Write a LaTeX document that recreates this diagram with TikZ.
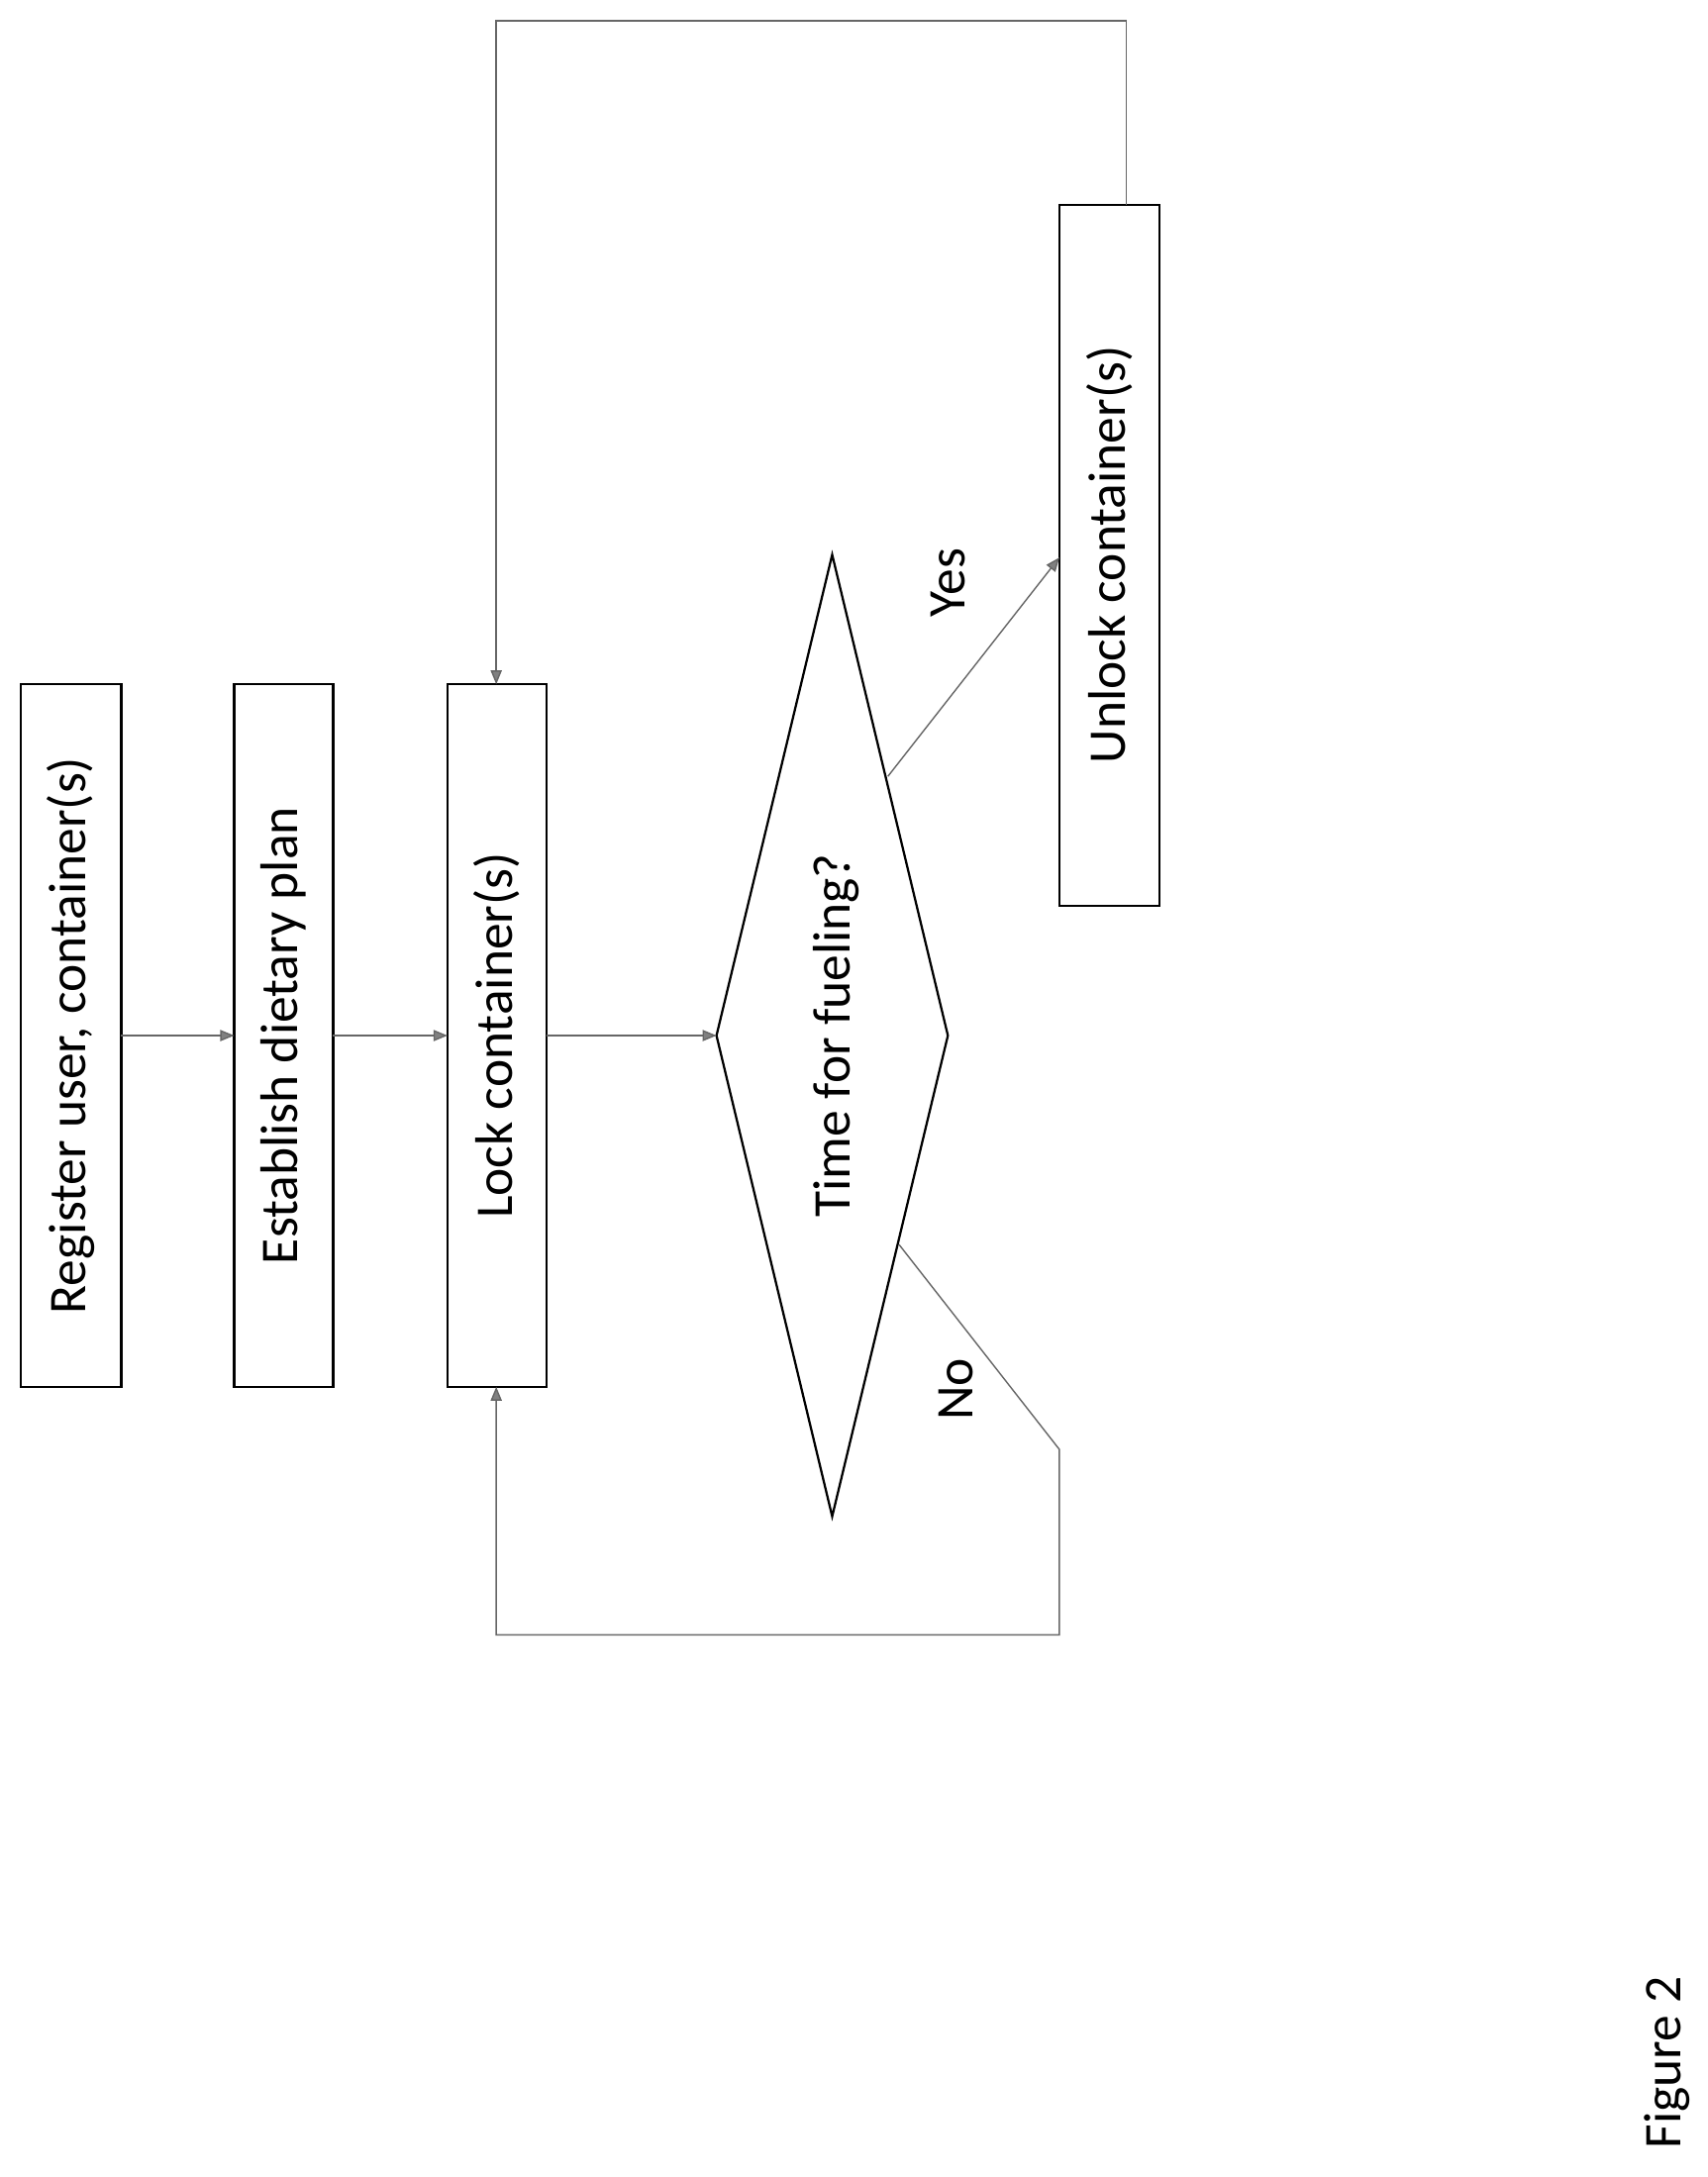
\documentclass[tikz,border=0pt]{standalone}
\usepackage{fontspec}
\setmainfont{Carlito}
\usetikzlibrary{arrows.meta}
\begin{document}
\begin{tikzpicture}[x=0.5pt,y=-0.5pt,
  box/.style={draw=black,line width=0.8pt},
  txt/.style={rotate=90,font=\fontsize{19}{23}\selectfont},
  con/.style={draw=gray!80!black,line width=0.5pt},
  arr/.style={con,-{Triangle[length=5pt,width=4pt,fill=gray]}}]
\useasboundingbox (0,0) rectangle (1225,1562);
\draw[box] (15,491) rectangle (87,995);
\draw[box] (168,491) rectangle (239,995);
\draw[box] (321,491) rectangle (392,995);
\draw[box] (760,147) rectangle (832,650);
\draw[box] (597,398) -- (680,743) -- (597,1088) -- (514,743) -- cycle;
\node[txt] (b1) at (51,743) {Register user, container(s)};
\node[txt] (b2) at (203,743) {Establish dietary plan};
\node[txt] (b3) at (356,743) {Lock container(s)};
\node[txt] (d) at (600,743) {Time for fueling?};
\node[txt] (b4) at (796,398) {Unlock container(s)};
\coordinate (o1) at (87,743); \coordinate (i2) at (168,743);
\coordinate (o2) at (239,743); \coordinate (i3) at (321,743);
\coordinate (o3) at (392,743); \coordinate (dl) at (514,743);
\coordinate (ys) at (637,557); \coordinate (ye) at (760,400);
\coordinate (ns) at (645,893);
\coordinate (t4) at (808,147); \coordinate (t3) at (356,491); \coordinate (b3b) at (356,995);
\draw[arr] (o1) -- (i2);
\draw[arr] (o2) -- (i3);
\draw[arr] (o3) -- (dl);
\draw[arr] (ys) -- (ye);
\draw[arr] (ns) -- (760,1040) -- (760,1173) -- (356,1173) -- (b3b);
\draw[arr] (t4) -- (808,15) -- (356,15) -- (t3);
\node[txt] (yes) at (680,418) {Yes};
\node[txt] (no) at (686,997) {No};
\node[txt] (fig) at (1196,1480) {Figure 2};
\end{tikzpicture}
\end{document}
